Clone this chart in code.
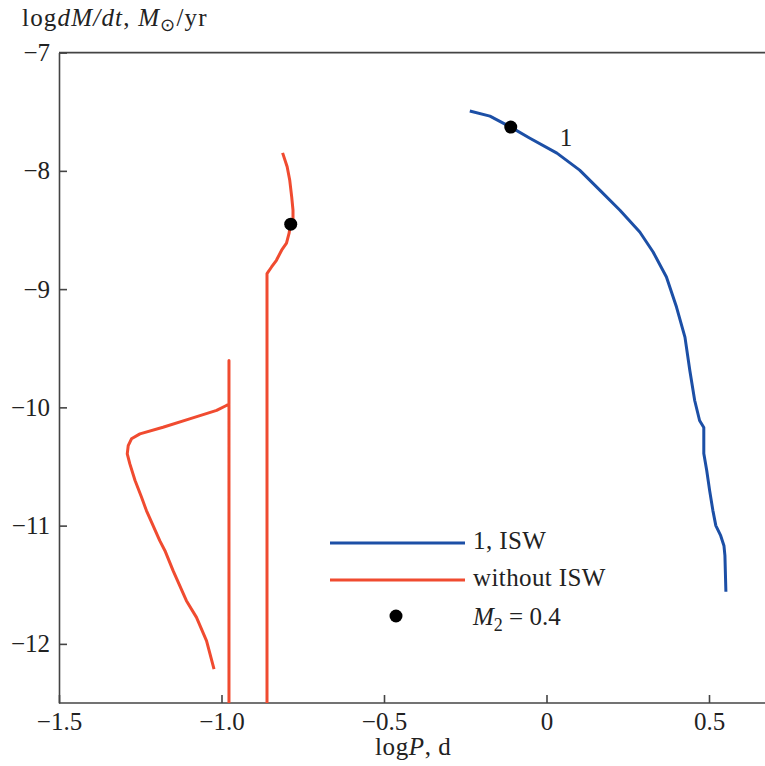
<!DOCTYPE html>
<html>
<head>
<meta charset="utf-8">
<script src="https://cdn.jsdelivr.net/npm/d3@7"></script>
<style>
  body { margin: 0; background: #fff; }
  text { font-family: "Liberation Serif", "Times New Roman", serif; fill: #222; }
</style>
</head>
<body>
<div id="container"></div>
<script>
"use strict";

const width = 765;
const height = 766;
const margin = { left: 59, top: 52.6, right: 0, bottom: 63 };

const blueColor = "#1c4fa6";
const redColor = "#f04b30";
const tickFontSize = 25;
const textFontSize = 25;

const xTicks = [-1.5, -1.0, -0.5, 0, 0.5];
const xTickLabels = ["−1.5", "−1.0", "−0.5", "0", "0.5"];
const yTicks = [-7, -8, -9, -10, -11, -12];
const yTickLabels = ["−7", "−8", "−9", "−10", "−11", "−12"];

// track 1, with ISW
const iswLogP = [
  -0.236, -0.174, -0.110, -0.051, 0.032, 0.102, 0.164, 0.226, 0.287, 0.328,
  0.369, 0.400, 0.426, 0.441, 0.456, 0.471, 0.484, 0.484, 0.493, 0.502,
  0.512, 0.521, 0.536, 0.546, 0.549, 0.552,
];
const iswLogMdot = [
  -7.494, -7.537, -7.630, -7.724, -7.850, -7.994, -8.163, -8.333, -8.517, -8.686,
  -8.898, -9.152, -9.406, -9.688, -9.942, -10.111, -10.170, -10.390, -10.534, -10.704,
  -10.873, -11.000, -11.085, -11.170, -11.254, -11.559,
];

// without ISW, right track
const noIswLogP1 = [
  -0.812, -0.798, -0.790, -0.784, -0.780, -0.780, -0.788, -0.792, -0.800, -0.815,
  -0.831, -0.846, -0.860, -0.860,
];
const noIswLogMdot1 = [
  -7.848, -7.966, -8.080, -8.220, -8.333, -8.418, -8.451, -8.527, -8.612, -8.671,
  -8.756, -8.813, -8.869, -12.5,
];

// without ISW, left track
const noIswLogP2 = [
  -0.977, -0.977, -0.977, -0.985, -1.015, -1.098, -1.180, -1.251, -1.277, -1.287,
  -1.290, -1.282, -1.266, -1.246, -1.231, -1.190, -1.174, -1.149, -1.108, -1.077,
  -1.046, -1.023,
];
const noIswLogMdot2 = [
  -12.5, -9.603, -9.975, -9.984, -10.026, -10.097, -10.168, -10.224, -10.266, -10.323,
  -10.393, -10.478, -10.619, -10.760, -10.873, -11.127, -11.212, -11.381, -11.635, -11.776,
  -11.974, -12.213,
];

// M2 = 0.4 markers
const markerLogP = [-0.110, -0.787];
const markerLogMdot = [-7.630, -8.451];

const zip = (xs, ys) => xs.map((x, i) => [x, ys[i]]);

const xScale = d3
  .scaleLinear()
  .domain([-1.5, 0.5])
  .range([margin.left, 709]);

const yScale = d3
  .scaleLinear()
  .domain([-12.5, -7])
  .range([height - margin.bottom, margin.top]);

const svg = d3
  .select("#container")
  .append("svg")
  .attr("width", width)
  .attr("height", height);

const line = d3
  .line()
  .x((d) => xScale(d[0]))
  .y((d) => yScale(d[1]));

// frame: top line, left and bottom axes
svg
  .append("line")
  .attr("x1", margin.left)
  .attr("x2", width)
  .attr("y1", margin.top)
  .attr("y2", margin.top)
  .attr("stroke", "#444")
  .attr("stroke-width", 1.6);

const xAxis = d3
  .axisBottom(xScale)
  .tickValues(xTicks)
  .tickFormat((d, i) => xTickLabels[i])
  .tickSizeInner(-8)
  .tickSizeOuter(0)
  .tickPadding(9);

const yAxis = d3
  .axisLeft(yScale)
  .tickValues(yTicks)
  .tickFormat((d, i) => yTickLabels[i])
  .tickSizeInner(-8)
  .tickSizeOuter(0)
  .tickPadding(9);

const gx = svg
  .append("g")
  .attr("transform", `translate(0, ${height - margin.bottom})`)
  .call(xAxis);

const gy = svg
  .append("g")
  .attr("transform", `translate(${margin.left}, 0)`)
  .call(yAxis);

gx.select(".domain").attr("d", `M${margin.left},0H${width}`);

[gx, gy].forEach((g) => {
  g.selectAll(".domain, .tick line").attr("stroke", "#444").attr("stroke-width", 1.6);
  g.selectAll("text")
    .style("font-family", '"Liberation Serif", serif')
    .style("font-size", tickFontSize + "px")
    .attr("fill", "#222");
});

// tracks
svg
  .append("path")
  .datum(zip(iswLogP, iswLogMdot))
  .attr("d", line)
  .attr("fill", "none")
  .attr("stroke", blueColor)
  .attr("stroke-width", 3)
  .attr("stroke-linejoin", "round");

[zip(noIswLogP1, noIswLogMdot1), zip(noIswLogP2, noIswLogMdot2)].forEach((track) => {
  svg
    .append("path")
    .datum(track)
    .attr("d", line)
    .attr("fill", "none")
    .attr("stroke", redColor)
    .attr("stroke-width", 3)
    .attr("stroke-linejoin", "round");
});

svg
  .selectAll("circle.marker")
  .data(zip(markerLogP, markerLogMdot))
  .enter()
  .append("circle")
  .attr("class", "marker")
  .attr("cx", (d) => xScale(d[0]))
  .attr("cy", (d) => yScale(d[1]))
  .attr("r", 6.5)
  .attr("fill", "#000");

// curve label
svg
  .append("text")
  .attr("x", 566)
  .attr("y", 146)
  .attr("text-anchor", "middle")
  .style("font-size", textFontSize + "px")
  .text("1");

// legend
const legend = svg.append("g");
const legendItems = [
  { color: blueColor, label: "1, ISW", y: 543 },
  { color: redColor, label: "without ISW", y: 580 },
];

legendItems.forEach((item) => {
  legend
    .append("line")
    .attr("x1", 330)
    .attr("x2", 465)
    .attr("y1", item.y)
    .attr("y2", item.y)
    .attr("stroke", item.color)
    .attr("stroke-width", 3);
  legend
    .append("text")
    .attr("x", 473)
    .attr("y", item.y + 6)
    .style("font-size", textFontSize + "px")
    .style("letter-spacing", "0.4px")
    .text(item.label);
});

legend
  .append("circle")
  .attr("cx", 396)
  .attr("cy", 616)
  .attr("r", 6.5)
  .attr("fill", "#000");

const m2 = legend
  .append("text")
  .attr("x", 473)
  .attr("y", 625)
  .style("font-size", textFontSize + "px");
m2.append("tspan").style("font-style", "italic").text("M");
m2.append("tspan").attr("dy", 6).style("font-size", "18px").text("2");
m2.append("tspan").attr("dy", -6).text(" = 0.4");

// axis titles
const yTitle = svg
  .append("text")
  .attr("x", 22)
  .attr("y", 26)
  .style("font-size", textFontSize + "px")
  .style("letter-spacing", "1.2px");
yTitle.append("tspan").text("log");
yTitle.append("tspan").style("font-style", "italic").text("dM/dt");
yTitle.append("tspan").text(", ");
yTitle.append("tspan").style("font-style", "italic").text("M");
yTitle.append("tspan").attr("dy", 5).style("font-size", "18px").text("⊙");
yTitle.append("tspan").attr("dy", -5).text("/yr");

const xTitle = svg
  .append("text")
  .attr("x", 375)
  .attr("y", 755)
  .style("font-size", textFontSize + "px")
  .style("letter-spacing", "0.6px");
xTitle.append("tspan").text("log");
xTitle.append("tspan").style("font-style", "italic").text("P");
xTitle.append("tspan").text(", d");
</script>
</body>
</html>
